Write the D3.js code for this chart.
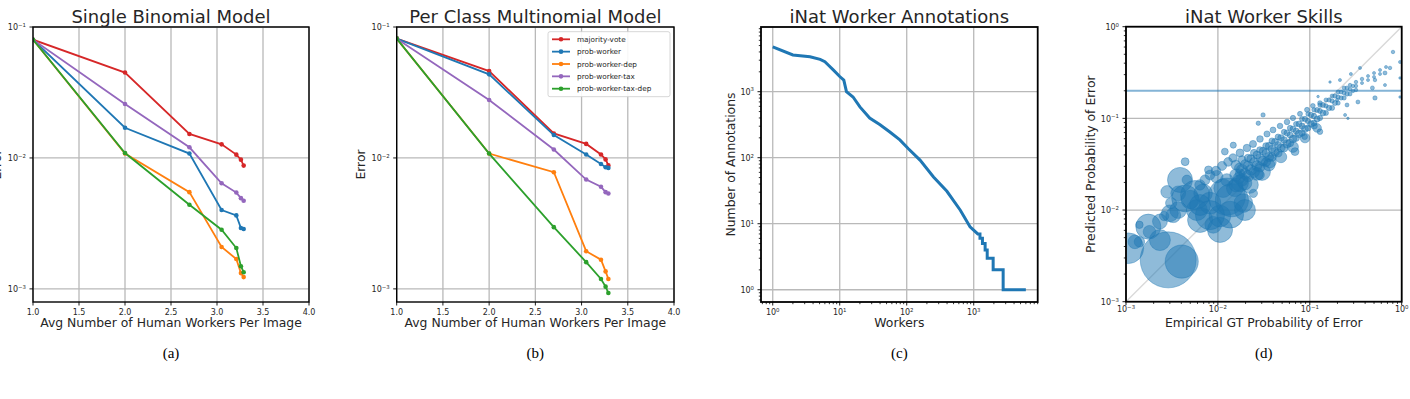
<!DOCTYPE html>
<html>
<head>
<meta charset="utf-8">
<script src="https://cdn.jsdelivr.net/npm/d3@7"></script>
<style>
  body { margin: 0; background: #fff; }
  svg { display: block; font-family: "DejaVu Sans", sans-serif; }
  .cap { font-family: "Liberation Serif", serif; }
</style>
</head>
<body>
<svg id="fig" width="1410" height="399"></svg>
<script>
// ---- data ----

// panels (a) and (b): error vs avg number of workers per image
const seriesNames = ['majority-vote', 'prob-worker', 'prob-worker-dep', 'prob-worker-tax', 'prob-worker-tax-dep'];
const seriesColors = ['#d62728', '#1f77b4', '#ff7f0e', '#9467bd', '#2ca02c'];
const workersPerImage = [1.0, 2.0, 2.70, 3.05, 3.21, 3.26, 3.29];

const binomMajorityVote = [0.080, 0.0449, 0.01524, 0.0127, 0.0106, 0.0097, 0.00874];
const binomProbWorker = [0.080, 0.0170, 0.0108, 0.0040, 0.00364, 0.00292, 0.00287];
const binomProbWorkerDep = [0.080, 0.0108, 0.00548, 0.00209, 0.00169, 0.00132, 0.00123];
const binomProbWorkerTax = [0.080, 0.0258, 0.01206, 0.0064, 0.00544, 0.00493, 0.00471];
const binomProbWorkerTaxDep = [0.080, 0.0109, 0.00439, 0.00283, 0.00205, 0.00149, 0.00134];

const multiMajorityVote = [0.0815, 0.0461, 0.01538, 0.0128, 0.01063, 0.00975, 0.00877];
const multiProbWorker = [0.0815, 0.0435, 0.01496, 0.01063, 0.0090, 0.00849, 0.00839];
const multiProbWorkerDep = [0.0815, 0.0108, 0.00778, 0.00194, 0.00167, 0.00136, 0.00119];
const multiProbWorkerTax = [0.0815, 0.0277, 0.01159, 0.00684, 0.00602, 0.00548, 0.00535];
const multiProbWorkerTaxDep = [0.0815, 0.0108, 0.00296, 0.00160, 0.00119, 0.00104, 0.00093];

// panel (c): annotations per worker, workers sorted by rank
const workerRank = [1, 2.0, 3.6, 5.1, 6.0, 6.8, 8.0, 10, 11.5, 12.6, 15.8, 20, 28, 40, 56, 79, 105, 158, 251, 398, 631, 881,
  1150, 1150, 1240, 1240, 1350, 1350, 1480, 1480, 1590, 1590, 1950, 1950, 2750, 2750, 6000];
const annotationCount = [4786, 3597, 3388, 3090, 2851, 2512, 2138, 1698, 1500, 1000, 832, 589, 398, 316, 245, 186, 138, 92, 51, 31, 16, 9,
  7, 7, 7, 6, 6, 5, 5, 4, 4, 3, 3, 2, 2, 1, 1];

// panel (d): per-worker empirical vs predicted error, marker area ~ annotation count
// big circles in the low-error cloud
const cloudEmp = [
  0.00288, 0.00404, 0.00106, 0.00175, 0.0018, 0.0014, 0.00125, 0.0014, 0.0026, 0.0031, 0.00234, 0.0030, 0.0037, 0.0037,
  0.0044, 0.0050, 0.0028, 0.0046, 0.0044, 0.0059, 0.0064, 0.0069, 0.0082, 0.0089, 0.0105, 0.0125, 0.0136, 0.0114,
  0.0153, 0.0189, 0.0125, 0.0097, 0.0174, 0.0174, 0.0079, 0.0243, 0.0285, 0.0119, 0.0147, 0.0369, 0.069, 0.088,
  0.112, 0.129, 0.0275, 0.031,
  0.0082, 0.0142, 0.00564, 0.00387, 0.0064, 0.00234, 0.01055, 0.0197, 0.0223, 0.0302, 0.00327];
const cloudPred = [
  0.00286, 0.00274, 0.00383, 0.00659, 0.0058, 0.0045, 0.0045, 0.0069, 0.0086, 0.0119, 0.0075, 0.0092, 0.0100, 0.0152,
  0.0134, 0.0130, 0.0158, 0.0213, 0.0337, 0.0100, 0.0078, 0.0152, 0.0119, 0.0069, 0.0086, 0.0140, 0.0089, 0.0173,
  0.0173, 0.0119, 0.0213, 0.0231, 0.0196, 0.0250, 0.0274, 0.0152, 0.0241, 0.0434, 0.0510, 0.0337, 0.0434, 0.063,
  0.0826, 0.0716, 0.0885, 0.109,
  0.0088, 0.0128, 0.01456, 0.0213, 0.01135, 0.0047, 0.00607, 0.0100, 0.0188, 0.0260, 0.00878];
const cloudCount = [
  1000, 350, 300, 200, 50, 35, 60, 18, 28, 40, 70, 90, 90, 70,
  230, 110, 50, 30, 20, 140, 200, 110, 150, 90, 150, 440, 230, 110,
  90, 110, 50, 50, 90, 28, 20, 22, 28, 15, 12, 50, 20, 10,
  12, 10, 6, 6,
  270, 350, 270, 200, 140, 140, 200, 140, 90, 90, 70];

// the thin upper streak
const streakEmp = [0.00638, 0.00724, 0.0082, 0.00953, 0.0111, 0.0129, 0.0146, 0.0174, 0.0207, 0.0241,
  0.0287, 0.0342, 0.0398, 0.0474, 0.0565, 0.0656, 0.0782, 0.0933, 0.108, 0.129];
const streakPred = [0.0188, 0.0213, 0.0241, 0.0267, 0.0303, 0.0335, 0.037, 0.042, 0.0475, 0.0526,
  0.0596, 0.0676, 0.0748, 0.0826, 0.0914, 0.101, 0.112, 0.124, 0.137, 0.147];
const streakCount = [35, 32, 30, 28, 26, 24, 22, 20, 18, 16, 14, 12, 11, 10, 10, 9, 8, 8, 7, 7];

// the dense main band
const bandEmp = [
  0.0157, 0.0157, 0.0157, 0.0183, 0.0183, 0.0183, 0.0213, 0.0213, 0.0213, 0.0247, 0.0247, 0.0247, 0.0287, 0.0287, 0.0287,
  0.0334, 0.0334, 0.0334, 0.0388, 0.0388, 0.0388, 0.0451, 0.0451, 0.0451, 0.0524, 0.0524, 0.0524, 0.0609, 0.0609, 0.0609,
  0.0708, 0.0708, 0.0708, 0.0822, 0.0822, 0.0822, 0.0955, 0.0955, 0.0955, 0.111, 0.111, 0.111, 0.129, 0.129, 0.129,
  0.150, 0.150, 0.150, 0.175, 0.175, 0.175, 0.203, 0.203, 0.203, 0.236, 0.236, 0.236, 0.274, 0.274, 0.274,
  0.318, 0.318, 0.318, 0.370, 0.370, 0.430, 0.430, 0.500, 0.500, 0.581, 0.581, 0.675,
  0.0170, 0.0170, 0.0197, 0.0197, 0.0229, 0.0229, 0.0266, 0.0266, 0.0310, 0.0310, 0.0360, 0.0360, 0.0418, 0.0418,
  0.0486, 0.0486, 0.0565, 0.0565, 0.0656, 0.0656, 0.0763, 0.0763, 0.0887, 0.0887, 0.103, 0.103, 0.120, 0.120,
  0.139, 0.139, 0.162, 0.162, 0.188, 0.188, 0.219, 0.219, 0.254, 0.254, 0.295, 0.295,
  0.0197, 0.0266, 0.0360, 0.0486, 0.0656, 0.0887, 0.120];
const bandPred = [
  0.0310, 0.0241, 0.0188, 0.0352, 0.0274, 0.0213, 0.0370, 0.0303, 0.0235, 0.0420, 0.0334, 0.0260, 0.0452, 0.0370, 0.0295,
  0.050, 0.0420, 0.0334, 0.0567, 0.0464, 0.0379, 0.0627, 0.0513, 0.0420, 0.0711, 0.0581, 0.0475, 0.0786, 0.0659, 0.0539,
  0.0869, 0.0729, 0.0611, 0.0985, 0.0826, 0.0693, 0.1117, 0.0937, 0.0786, 0.124, 0.1062, 0.0891, 0.140, 0.1204, 0.101,
  0.159, 0.1366, 0.1145, 0.1755, 0.155, 0.130, 0.194, 0.171, 0.147, 0.2146, 0.189, 0.167, 0.231, 0.2094, 0.1846,
  0.249, 0.2256, 0.204, 0.269, 0.243, 0.290, 0.262, 0.3126, 0.283, 0.337, 0.305, 0.3635,
  0.0288, 0.0224, 0.0318, 0.0248, 0.0361, 0.0274, 0.0399, 0.0303, 0.0441, 0.0343, 0.050, 0.0379, 0.0553, 0.0430,
  0.0611, 0.0475, 0.0693, 0.0526, 0.0766, 0.0596, 0.0869, 0.0676, 0.0985, 0.0766, 0.1089, 0.0869, 0.1235, 0.0985,
  0.140, 0.1145, 0.1588, 0.130, 0.1755, 0.147, 0.194, 0.167, 0.2146, 0.1846, 0.2256, 0.199,
  0.0197, 0.0248, 0.0310, 0.0379, 0.0488, 0.0611, 0.0786];
const bandCount = [
  30, 48, 60, 22, 40, 50, 18, 30, 42, 16, 26, 38, 14, 21, 32,
  14, 20, 27, 12, 18, 24, 11, 15, 21, 9, 14, 20, 9, 12, 18,
  8, 11, 15, 8, 11, 14, 6, 9, 12, 6, 9, 11, 6, 8, 9,
  5, 6, 8, 5, 6, 8, 5, 6, 6, 5, 5, 6, 4, 4, 5,
  4, 4, 4, 4, 3, 3, 3, 3, 3, 3, 3, 3,
  27, 42, 24, 39, 21, 36, 20, 33, 18, 30, 17, 27, 15, 24,
  14, 22, 12, 21, 11, 18, 11, 17, 9, 15, 9, 14, 8, 12,
  8, 11, 6, 9, 6, 8, 5, 6, 5, 6, 4, 4,
  60, 52, 45, 42, 38, 30, 24];

// scattered high-error workers
const tailEmp = [0.804, 0.746, 0.658, 0.512, 0.48, 0.512, 0.658, 0.334, 0.254, 0.242, 0.198, 0.166, 0.213, 0.959, 0.959, 0.959,
  0.352, 0.28, 0.123, 0.26];
const tailPred = [0.530, 0.355, 0.313, 0.262, 0.215, 0.167, 0.231, 0.151, 0.140, 0.109, 0.159, 0.249, 0.262, 0.412, 0.276, 0.171,
  0.355, 0.305, 0.173, 0.100];
const tailCount = [4, 4, 5, 4, 5, 6, 3, 5, 5, 3, 3, 2, 3, 3, 2, 2, 3, 3, 2, 2];

const priorErrorLevel = 0.2;

// ---- drawing ----
const fig = d3.select('#fig');
const defs = fig.append('defs');
const gridColor = '#b9b9b9';
const textColor = '#262626';

function logExp(d) { return Math.round(Math.log10(d)); }

function tickText(sel, d, kind) {
  if (kind === 'log') {
    const e = logExp(d);
    sel.append('tspan').text('10');
    sel.append('tspan').attr('font-size', 5.4).attr('dy', -3.5).text(e < 0 ? '\u2212' + (-e) : String(e));
  } else {
    sel.text(d3.format('.1f')(d));
  }
}

function minorTicks(domain) {
  const out = [];
  const lo = Math.floor(Math.log10(domain[0])), hi = Math.ceil(Math.log10(domain[1]));
  for (let e = lo; e < hi; e++) {
    for (let k = 2; k <= 9; k++) {
      const v = k * Math.pow(10, e);
      if (v >= domain[0] && v <= domain[1]) out.push(v);
    }
  }
  return out;
}

// sets up one axes box: grid, clipped plot layer, frame, ticks and labels
function makePanel(o) {
  const g = fig.append('g');
  const gridG = g.append('g');
  const plot = g.append('g');
  const frame = g.append('g');

  defs.append('clipPath').attr('id', 'clip-' + o.id)
    .append('rect').attr('x', o.l).attr('y', o.t).attr('width', o.r - o.l).attr('height', o.b - o.t);
  plot.attr('clip-path', `url(#clip-${o.id})`);

  const x = o.xLog ? d3.scaleLog() : d3.scaleLinear();
  x.domain(o.xDomain).range([o.l, o.r]);
  const y = d3.scaleLog().domain(o.yDomain).range([o.b, o.t]);

  gridG.selectAll('line.gx').data(o.xTicks).join('line')
    .attr('x1', d => x(d)).attr('x2', d => x(d)).attr('y1', o.t).attr('y2', o.b)
    .attr('stroke', gridColor).attr('stroke-width', 1.3);
  gridG.selectAll('line.gy').data(o.yTicks).join('line')
    .attr('y1', d => y(d)).attr('y2', d => y(d)).attr('x1', o.l).attr('x2', o.r)
    .attr('stroke', gridColor).attr('stroke-width', 1.3);

  // minor ticks on log axes
  if (o.minor) {
    if (o.xLog) {
      frame.selectAll('line.mx').data(minorTicks(o.xDomain)).join('line')
        .attr('x1', d => x(d)).attr('x2', d => x(d)).attr('y1', o.b).attr('y2', o.b + 2.2)
        .attr('stroke', '#000').attr('stroke-width', 0.8);
    }
    frame.selectAll('line.my').data(minorTicks(o.yDomain)).join('line')
      .attr('y1', d => y(d)).attr('y2', d => y(d)).attr('x1', o.l).attr('x2', o.l - 2.2)
      .attr('stroke', '#000').attr('stroke-width', 0.8);
  }
  frame.selectAll('line.tx').data(o.xTicks).join('line')
    .attr('x1', d => x(d)).attr('x2', d => x(d)).attr('y1', o.b).attr('y2', o.b + 3.5)
    .attr('stroke', '#000').attr('stroke-width', 0.9);
  frame.selectAll('line.ty').data(o.yTicks).join('line')
    .attr('y1', d => y(d)).attr('y2', d => y(d)).attr('x1', o.l).attr('x2', o.l - 3.5)
    .attr('stroke', '#000').attr('stroke-width', 0.9);

  frame.append('rect')
    .attr('x', o.l).attr('y', o.t).attr('width', o.r - o.l).attr('height', o.b - o.t)
    .attr('fill', 'none').attr('stroke', '#000').attr('stroke-width', o.frameW || 1.4);

  frame.selectAll('text.xt').data(o.xTicks).join('text')
    .attr('x', d => x(d)).attr('y', o.b + (o.xTickDy || 13))
    .attr('text-anchor', 'middle').attr('font-size', 8).attr('fill', textColor)
    .each(function (d) { tickText(d3.select(this), d, o.xLog ? 'log' : 'lin'); });
  frame.selectAll('text.yt').data(o.yTicks).join('text')
    .attr('x', o.l - 7).attr('y', d => y(d) + 3.3)
    .attr('text-anchor', 'end').attr('font-size', 8).attr('fill', textColor)
    .each(function (d) { tickText(d3.select(this), d, 'log'); });

  const cx = (o.l + o.r) / 2;
  g.append('text').attr('x', cx).attr('y', 23.3)
    .attr('text-anchor', 'middle').attr('font-size', 18).attr('fill', textColor).text(o.title);
  g.append('text').attr('x', cx).attr('y', 327)
    .attr('text-anchor', 'middle').attr('font-size', 12.4).attr('fill', textColor).text(o.xLabel);
  g.append('text')
    .attr('transform', `translate(${o.yLabelX},${(o.t + o.b) / 2}) rotate(-90)`)
    .attr('text-anchor', 'middle').attr('dominant-baseline', 'central')
    .attr('font-size', 12.4).attr('fill', textColor).text(o.yLabel);
  g.append('text').attr('class', 'cap').attr('x', cx).attr('y', 358)
    .attr('text-anchor', 'middle').attr('font-size', 15).attr('fill', '#000').text(o.caption);

  return { plot, x, y };
}

function drawErrorSeries(p, seriesList) {
  const line = d3.line().x((d, i) => p.x(workersPerImage[i])).y(d => p.y(d));
  seriesList.forEach((vals, k) => {
    p.plot.append('path').datum(vals)
      .attr('d', line).attr('fill', 'none')
      .attr('stroke', seriesColors[k]).attr('stroke-width', 1.8);
    p.plot.selectAll(null).data(vals).join('circle')
      .attr('cx', (d, i) => p.x(workersPerImage[i])).attr('cy', d => p.y(d))
      .attr('r', 2.3).attr('fill', seriesColors[k]);
  });
}

const linTicks = [1.0, 1.5, 2.0, 2.5, 3.0, 3.5, 4.0];
const errDomain = [0.000794, 0.1];

// (a)
const pa = makePanel({
  id: 'a', l: 33, r: 309, t: 27, b: 302,
  xDomain: [1, 4], yDomain: errDomain, xTicks: linTicks, yTicks: [0.001, 0.01, 0.1],
  title: 'Single Binomial Model', xLabel: 'Avg Number of Human Workers Per Image', yLabel: 'Error',
  yLabelX: -3.7, caption: '(a)'
});
drawErrorSeries(pa, [binomMajorityVote, binomProbWorker, binomProbWorkerDep, binomProbWorkerTax, binomProbWorkerTaxDep]);

// (b)
const pb = makePanel({
  id: 'b', l: 396.7, r: 674, t: 27, b: 302,
  xDomain: [1, 4], yDomain: errDomain, xTicks: linTicks, yTicks: [0.001, 0.01, 0.1],
  title: 'Per Class Multinomial Model', xLabel: 'Avg Number of Human Workers Per Image', yLabel: 'Error',
  yLabelX: 360, caption: '(b)'
});
drawErrorSeries(pb, [multiMajorityVote, multiProbWorker, multiProbWorkerDep, multiProbWorkerTax, multiProbWorkerTaxDep]);

// legend for (b)
const leg = fig.append('g');
leg.append('rect').attr('x', 548).attr('y', 31.7).attr('width', 122).attr('height', 65)
  .attr('rx', 2).attr('fill', '#fff').attr('fill-opacity', 0.9).attr('stroke', '#cccccc').attr('stroke-width', 0.8);
seriesNames.forEach((name, k) => {
  const yy = 39.3 + k * 12.35;
  leg.append('line').attr('x1', 552).attr('x2', 570).attr('y1', yy).attr('y2', yy)
    .attr('stroke', seriesColors[k]).attr('stroke-width', 1.8);
  leg.append('circle').attr('cx', 561).attr('cy', yy).attr('r', 2.3).attr('fill', seriesColors[k]);
  leg.append('text').attr('x', 577).attr('y', yy + 2.6).attr('font-size', 7.3).attr('fill', textColor).text(name);
});

// (c)
const pc = makePanel({
  id: 'c', l: 761, r: 1037.7, t: 27, b: 302, xLog: true, minor: true, frameW: 1.8,
  xDomain: [0.668, 9016], yDomain: [0.652, 9550], xTicks: [1, 10, 100, 1000], yTicks: [1, 10, 100, 1000],
  title: 'iNat Worker Annotations', xLabel: 'Workers', yLabel: 'Number of Annotations',
  yLabelX: 730, caption: '(c)'
});
pc.plot.append('path').datum(d3.zip(workerRank, annotationCount))
  .attr('d', d3.line().x(d => pc.x(d[0])).y(d => pc.y(d[1])))
  .attr('fill', 'none').attr('stroke', '#1f77b4').attr('stroke-width', 3);

// (d)
const pd = makePanel({
  id: 'd', l: 1126, r: 1401.7, t: 26.7, b: 301.7, xLog: true, minor: true, frameW: 1.8, xTickDy: 10.5,
  xDomain: [0.001, 1], yDomain: [0.001, 1], xTicks: [0.001, 0.01, 0.1, 1], yTicks: [0.001, 0.01, 0.1, 1],
  title: 'iNat Worker Skills', xLabel: 'Empirical GT Probability of Error', yLabel: 'Predicted Probability of Error',
  yLabelX: 1090, caption: '(d)'
});
pd.plot.append('line')
  .attr('x1', pd.x(0.001)).attr('y1', pd.y(0.001)).attr('x2', pd.x(1)).attr('y2', pd.y(1))
  .attr('stroke', '#d9d9d9').attr('stroke-width', 1.4);
const rScale = d3.scaleSqrt().domain([0, 1000]).range([0, 28]);
const skills = [
  ...d3.zip(cloudEmp, cloudPred, cloudCount),
  ...d3.zip(streakEmp, streakPred, streakCount),
  ...d3.zip(bandEmp, bandPred, bandCount),
  ...d3.zip(tailEmp, tailPred, tailCount)
];
pd.plot.selectAll('circle').data(skills).join('circle')
  .attr('cx', d => pd.x(d[0])).attr('cy', d => pd.y(d[1])).attr('r', d => rScale(d[2]))
  .attr('fill', '#1f77b4').attr('fill-opacity', 0.5)
  .attr('stroke', '#1f77b4').attr('stroke-opacity', 0.5).attr('stroke-width', 0.8);
pd.plot.append('line')
  .attr('x1', pd.x(0.001)).attr('x2', pd.x(1)).attr('y1', pd.y(priorErrorLevel)).attr('y2', pd.y(priorErrorLevel))
  .attr('stroke', '#1f77b4').attr('stroke-opacity', 0.55).attr('stroke-width', 2);
</script>
</body>
</html>
